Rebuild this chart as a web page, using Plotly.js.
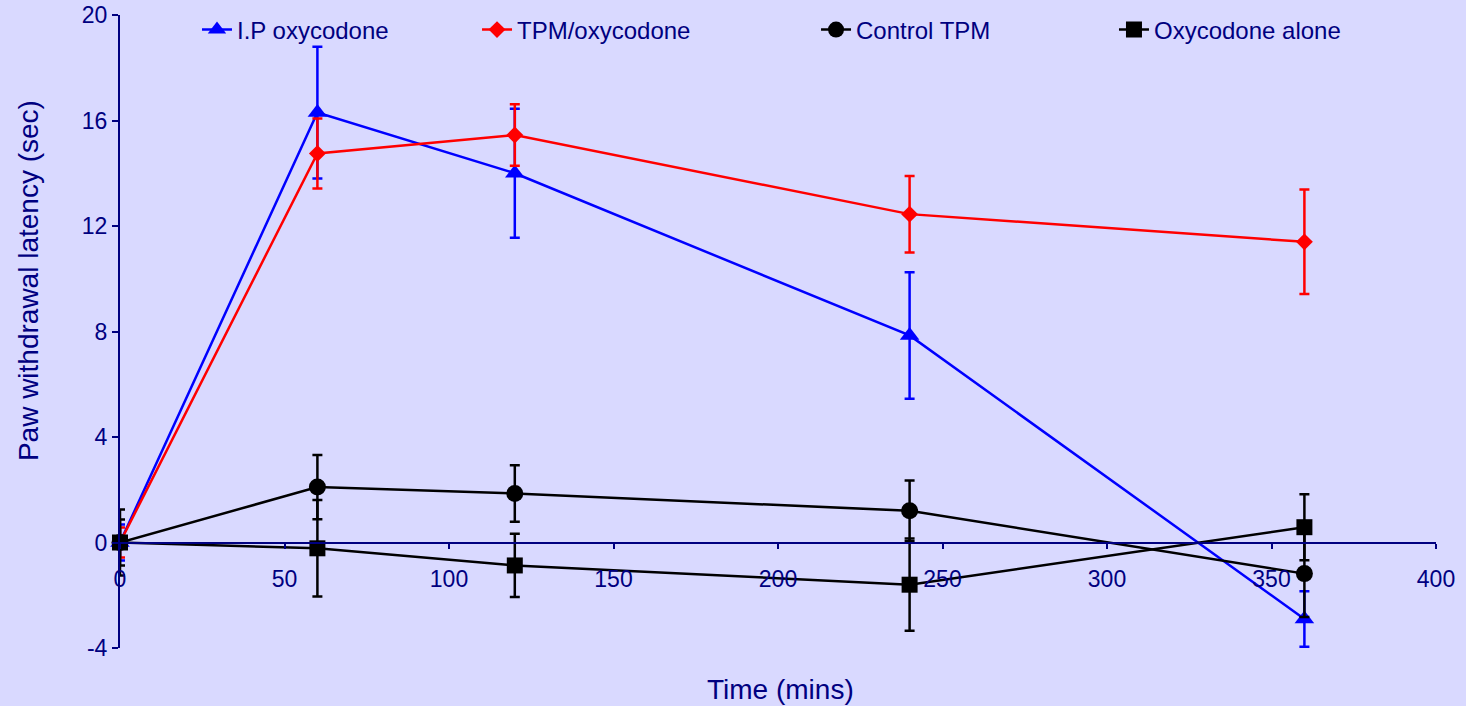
<!DOCTYPE html>
<html>
<head>
<meta charset="utf-8">
<script src="https://cdn.plot.ly/plotly-3.0.1.min.js"></script>
<style>
html,body{margin:0;padding:0;background:#D9D9FF;}
#chart{width:1466px;height:706px;}
</style>
</head>
<body>
<div id="chart"></div>
<script>
// Data (time in minutes, latency in seconds)
const timeMins = [0, 60, 120, 240, 360];

const ipOxycodone = [0, 16.3, 14.0, 7.85, -2.9];
const ipOxycodoneErr = [0.68, 2.5, 2.45, 2.4, 1.05];

const tpmOxycodone = [0, 14.75, 15.45, 12.45, 11.4];
const tpmOxycodoneErr = [0.57, 1.33, 1.17, 1.45, 1.98];

const controlTPM = [0, 2.1, 1.86, 1.2, -1.18];
const controlTPMErr = [0.87, 1.22, 1.07, 1.15, 1.64];

const oxycodoneAlone = [0, -0.22, -0.87, -1.6, 0.58];
const oxycodoneAloneErr = [1.25, 1.83, 1.2, 1.75, 1.25];

const seriesNames = ["I.P oxycodone", "TPM/oxycodone", "Control TPM", "Oxycodone alone"];

const xTickVals = [0, 50, 100, 150, 200, 250, 300, 350, 400];
const yTickVals = [-4, 0, 4, 8, 12, 16, 20];

const navy = "#000080";
const bg = "#D9D9FF";

function mk(name, y, err, color, symbol, size, legend) {
  return {
    x: timeMins, y: y, name: name, type: "scatter", mode: "lines+markers",
    line: {color: color, width: 2.5},
    marker: {color: color, symbol: symbol, size: size},
    error_y: {type: "data", array: err, visible: true, color: color, thickness: 2.5, width: 5},
    legend: legend, cliponaxis: false
  };
}

const traces = [
  mk(seriesNames[0], ipOxycodone, ipOxycodoneErr, "#0000FF", "triangle-up", 17, "legend"),
  mk(seriesNames[1], tpmOxycodone, tpmOxycodoneErr, "#FF0000", "diamond", 13, "legend2"),
  mk(seriesNames[2], controlTPM, controlTPMErr, "#000000", "circle", 17, "legend3"),
  mk(seriesNames[3], oxycodoneAlone, oxycodoneAloneErr, "#000000", "square", 16, "legend4")
];

const legFont = {family: "Liberation Sans, Arial, sans-serif", size: 24, color: navy};
function leg(x) {
  return {x: x, y: 1 - 30 / 706, xref: "paper", yref: "container", xanchor: "left", yanchor: "middle",
          orientation: "h", bgcolor: "rgba(0,0,0,0)", borderwidth: 0, font: legFont};
}

const layout = {
  width: 1466, height: 706,
  paper_bgcolor: bg, plot_bgcolor: bg,
  margin: {l: 120, r: 30, t: 15, b: 58, autoexpand: false},
  font: {family: "Liberation Sans, Arial, sans-serif", size: 23, color: navy},
  showlegend: true,
  legend: leg(0.0585),
  legend2: leg(0.2713),
  legend3: leg(0.5289),
  legend4: leg(0.7553),
  xaxis: {
    range: [0, 400], tickvals: xTickVals, ticktext: xTickVals.map(String),
    anchor: "free", position: 4 / 24,
    showline: true, linecolor: navy, linewidth: 2,
    ticks: "outside", ticklen: 5, tickwidth: 2, tickcolor: navy,
    ticklabelstandoff: 11,
    showgrid: false, zeroline: false,
    tickfont: {size: 23, color: navy}
  },
  yaxis: {
    range: [-4, 20], tickvals: yTickVals, ticktext: yTickVals.map(String),
    showline: true, linecolor: navy, linewidth: 2,
    ticks: "outside", ticklen: 6, tickwidth: 2, tickcolor: navy,
    showgrid: false, zeroline: false,
    tickfont: {size: 23, color: navy}
  },
  annotations: [
    {text: "Time (mins)", xref: "paper", yref: "paper", x: 0.502, y: -0.066, xanchor: "center", yanchor: "middle",
     showarrow: false, font: {size: 28, color: navy}},
    {text: "Paw withdrawal latency (sec)", xref: "paper", yref: "paper", x: -0.07, y: 0.581, xanchor: "center", yanchor: "middle",
     textangle: -90, showarrow: false, font: {size: 28, color: navy}}
  ]
};

Plotly.newPlot("chart", traces, layout, {displayModeBar: false, staticPlot: true});
</script>
</body>
</html>
